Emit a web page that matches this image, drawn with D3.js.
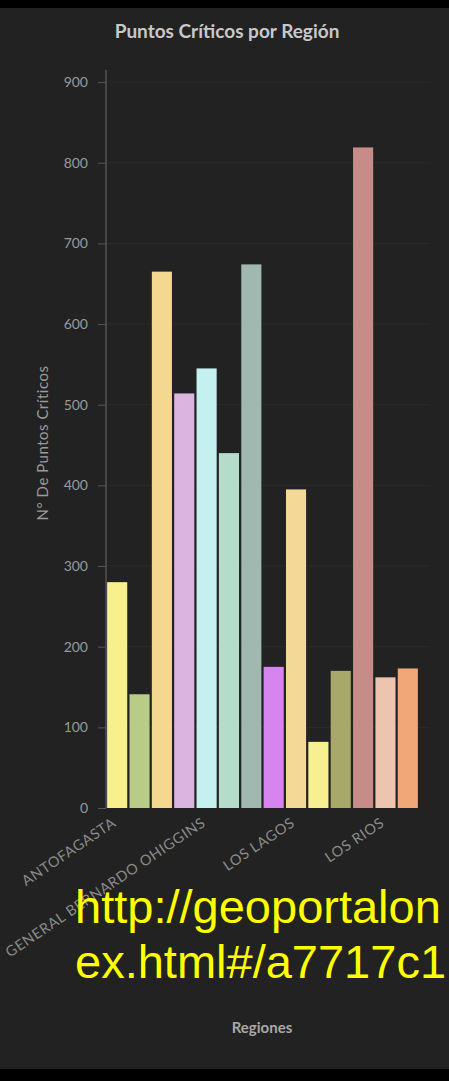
<!DOCTYPE html>
<html>
<head>
<meta charset="utf-8">
<script src="https://cdn.jsdelivr.net/npm/d3@7/dist/d3.min.js"></script>
<style>
  html, body { margin: 0; padding: 0; background: #000; }
  svg { display: block; }
</style>
</head>
<body>
<script>
// ---- data ----
const categories = [
  "ANTOFAGASTA", "ARICA Y PARINACOTA", "ATACAMA", "AYSEN",
  "GENERAL BERNARDO OHIGGINS", "BIOBIO", "COQUIMBO", "LA ARAUCANIA",
  "LOS LAGOS", "MAGALLANES", "MAULE", "METROPOLITANA", "LOS RIOS", "VALPARAISO"
];
const values = [280, 141, 665, 514, 545, 440, 674, 175, 395, 82, 170, 819, 162, 173];
const barColors = [
  "#f8f08c", "#b8cc88", "#f4d890", "#dcb4e0", "#c4f0f0", "#b4dcc8", "#a0b8b0",
  "#d884f0", "#f4d898", "#f8f090", "#a8a868", "#c88c88", "#ecc4b0", "#f0a878"
];
const yTicks = [0, 100, 200, 300, 400, 500, 600, 700, 800, 900];
const shownLabels = ["ANTOFAGASTA", "GENERAL BERNARDO OHIGGINS", "LOS LAGOS", "LOS RIOS"];
const titleText = "Puntos Críticos por Región";
const yTitle = "N° De Puntos Críticos";
const xTitle = "Regiones";
const overlayLines = ["http://geoportalon", "ex.html#/a7717c1"];

// ---- drawing ----
const W = 449, H = 1081;
const FONT = "Lato, 'Noto Sans', sans-serif";
const svg = d3.select("body").append("svg").attr("width", W).attr("height", H);

svg.append("rect").attr("width", W).attr("height", H).attr("fill", "#222222");
svg.append("rect").attr("width", W).attr("height", 8).attr("fill", "#000");
svg.append("rect").attr("y", 1069).attr("width", W).attr("height", 12).attr("fill", "#000");

const x = d3.scaleBand().domain(categories).range([106, 419]).paddingInner(0.1).paddingOuter(0.05);
const y = d3.scaleLinear().domain([0, 915]).range([808, 70]);

// grid
svg.append("g").selectAll("line").data(yTicks.filter(d => d > 0)).join("line")
  .attr("x1", 107).attr("x2", 430)
  .attr("y1", d => y(d)).attr("y2", d => y(d))
  .attr("stroke", "#2b2b2b").attr("stroke-width", 1);

// title
svg.append("text").attr("x", 227).attr("y", 38).attr("text-anchor", "middle")
  .attr("font-family", FONT).attr("font-weight", "bold")
  .attr("font-size", 19).attr("fill", "#c8c8c8").text(titleText);

// bars
svg.append("g").selectAll("rect").data(values).join("rect")
  .attr("x", (d, i) => x(categories[i]))
  .attr("width", x.bandwidth())
  .attr("y", d => y(d))
  .attr("height", d => y(0) - y(d))
  .attr("fill", (d, i) => barColors[i]);

// y axis
const yAxis = svg.append("g").attr("transform", "translate(106,0)")
  .call(d3.axisLeft(y).tickValues(yTicks).tickSize(8).tickPadding(10).tickFormat(d3.format("d")));
yAxis.select(".domain").attr("stroke", "#6a6a6a").attr("d", `M0,${y(915)}V${y(0)}`);
yAxis.selectAll(".tick line").attr("stroke", "#555");
yAxis.selectAll(".tick text").attr("fill", "#9a9a9a")
  .attr("font-family", FONT).attr("font-size", 14);

// x tick labels
const xAxis = svg.append("g").attr("transform", "translate(-3,808)")
  .call(d3.axisBottom(x).tickValues(shownLabels).tickSize(0).tickPadding(0));
xAxis.select(".domain").remove();
xAxis.selectAll(".tick text")
  .attr("fill", "#8a8a8a")
  .attr("font-family", FONT)
  .attr("font-size", 14.5)
  .attr("letter-spacing", "0.6px")
  .attr("text-anchor", "end")
  .attr("dy", "0.35em")
  .attr("transform", "translate(0,13) rotate(-34)");

// axis titles
svg.append("text").attr("transform", "translate(48,443) rotate(-90)")
  .attr("text-anchor", "middle").attr("font-family", FONT)
  .attr("font-size", 15).attr("letter-spacing", "0.5px")
  .attr("fill", "#9a9a9a").text(yTitle);
svg.append("text").attr("x", 262).attr("y", 1033).attr("text-anchor", "middle")
  .attr("font-family", FONT).attr("font-weight", "bold")
  .attr("font-size", 15).attr("fill", "#a8a8a8").text(xTitle);

// overlay URL text
svg.append("g").selectAll("text").data(overlayLines).join("text")
  .attr("x", 75).attr("y", (d, i) => 923 + i * 55)
  .attr("font-family", "'Liberation Sans', Arial, sans-serif")
  .attr("font-size", 47).attr("fill", "#ffff00").text(d => d);
</script>
</body>
</html>
